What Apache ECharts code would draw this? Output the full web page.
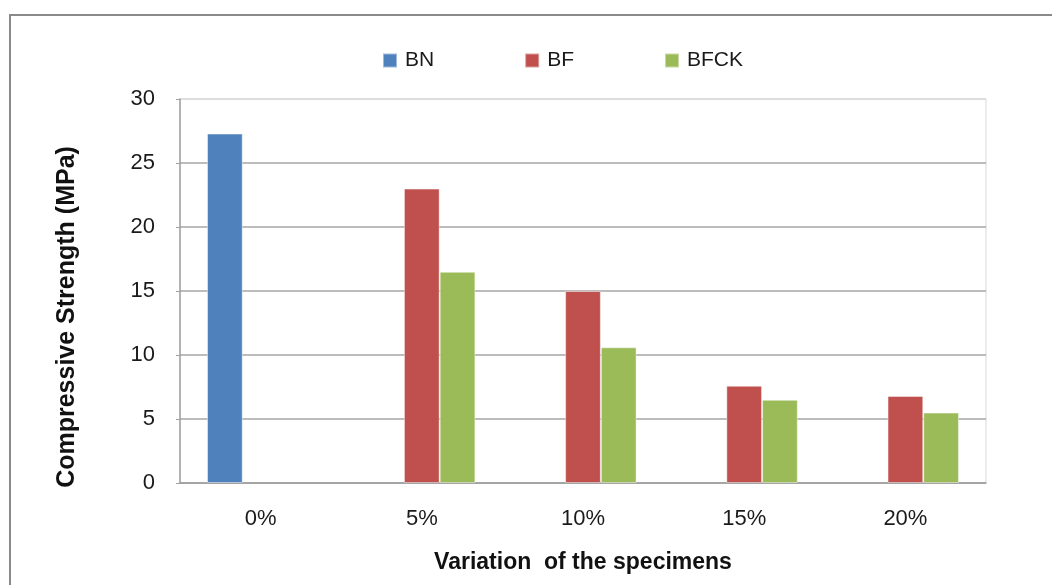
<!DOCTYPE html>
<html><head><meta charset="utf-8">
<script src="https://cdn.jsdelivr.net/npm/echarts@6/dist/echarts.min.js"></script>
<style>html,body{margin:0;padding:0;background:#fff}#c{width:1052px;height:585px}</style>
</head><body><div id="c"></div>
<script>
const categories = ['0%', '5%', '10%', '15%', '20%'];
const seriesNames = ['BN', 'BF', 'BFCK'];
const bnValues = [27.3, null, null, null, null];
const bfValues = [null, 23.0, 15.0, 7.6, 6.8];
const bfckValues = [null, 16.5, 10.6, 6.5, 5.5];
const yTicks = [0, 5, 10, 15, 20, 25, 30];
const colors = ['#4F81BD', '#C0504D', '#9BBB59'];
const FONT = 'Liberation Sans';

const chart = echarts.init(document.getElementById('c'));
const barStyle = (c) => ({ color: c, borderColor: 'rgba(255,255,255,0.45)', borderWidth: 1 });
chart.setOption({
  animation: false,
  textStyle: { fontFamily: FONT },
  legend: {
    data: seriesNames, left: 377, top: 45, itemWidth: 14, itemHeight: 14, itemGap: 90,
    icon: 'rect', textStyle: { fontSize: 21, color: '#1a1a1a', fontFamily: FONT, padding: [0,0,0,3] }
  },
  grid: { left: 180, right: 66, top: 99, bottom: 102, show: true, borderColor: '#D9D9D9', borderWidth: 1 },
  graphic: [
    { type: 'rect', shape: { x: 10, y: 15, width: 1100, height: 700 }, style: { fill: 'none', stroke: '#8a8a8a', lineWidth: 2 }, silent: true, z: -1 },
    { type: 'text', x: 67, y: 317, rotation: Math.PI / 2, style: { text: 'Compressive Strength (MPa)', font: 'bold 25px ' + FONT, fill: '#111', align: 'center', verticalAlign: 'middle' } }
  ],
  xAxis: {
    type: 'category', data: categories,
    axisLine: { lineStyle: { color: '#A0A0A0', width: 1.5 } },
    axisTick: { show: false },
    axisLabel: { fontSize: 22, color: '#1a1a1a', margin: 25 },
    name: 'Variation  of the specimens', nameLocation: 'middle', nameGap: 68,
    nameTextStyle: { fontSize: 23, fontWeight: 'bold', color: '#111' }
  },
  yAxis: {
    type: 'value', min: yTicks[0], max: yTicks[yTicks.length - 1], interval: 5,
    axisLine: { show: true, lineStyle: { color: '#A0A0A0', width: 1.5 } },
    axisTick: { show: true, length: 4, lineStyle: { color: '#A0A0A0' } },
    axisLabel: { fontSize: 22, color: '#1a1a1a', margin: 25 },
    splitLine: { lineStyle: { color: ['#A6A6A6','#A6A6A6','#A6A6A6','#A6A6A6','#A6A6A6','#A6A6A6','#D9D9D9'], width: 1.5 } }
  },
  series: [
    { name: seriesNames[0], type: 'bar', data: bnValues, itemStyle: barStyle(colors[0]), barGap: '0%', barCategoryGap: '33.5%' },
    { name: seriesNames[1], type: 'bar', data: bfValues, itemStyle: barStyle(colors[1]), barGap: '0%', barCategoryGap: '33.5%' },
    { name: seriesNames[2], type: 'bar', data: bfckValues, itemStyle: barStyle(colors[2]), barGap: '0%', barCategoryGap: '33.5%' }
  ]
});
</script></body></html>
